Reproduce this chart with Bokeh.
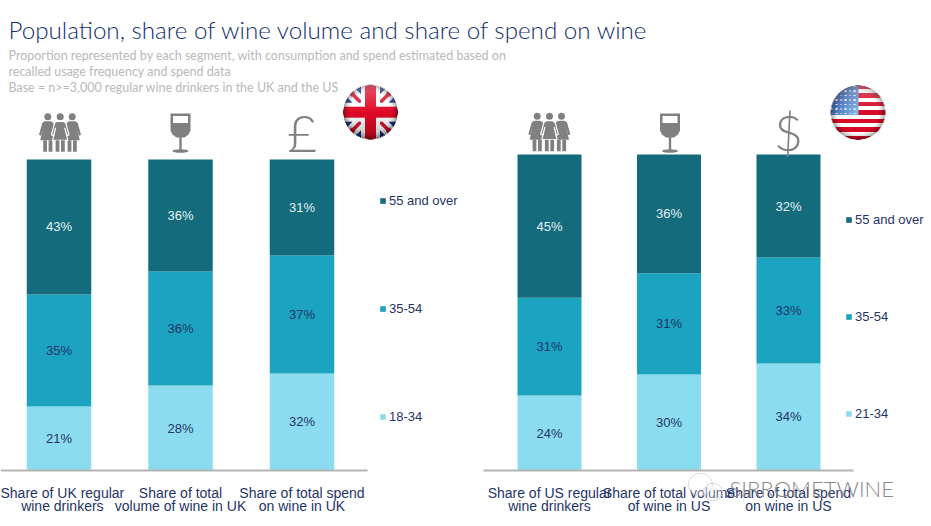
import numpy as np
from bokeh.plotting import figure
from bokeh.layouts import column, row
from bokeh.models import Range1d, LinearAxis, FixedTicker, Legend, LegendItem, AllLabels, ColumnDataSource
from bokeh.core.properties import value
from bokeh.embed import file_html
from bokeh.resources import INLINE

TITLE = "Population, share of wine volume and share of spend on wine"
SUB = ["Proportion represented by each segment, with consumption and spend estimated based on",
       "recalled usage frequency and spend data",
       "Base = n>=3,000 regular wine drinkers in the UK and the US"]

uk_cats = ["Share of UK regular\nwine drinkers", "Share of total\nvolume of wine in UK", "Share of total spend\non wine in UK"]
uk_young = [20.6, 27.3, 31.2]
uk_mid = [36.0, 36.7, 37.9]
uk_old = [43.4, 36.0, 30.9]
uk_young_lab = ["21%", "28%", "32%"]
uk_mid_lab = ["35%", "36%", "37%"]
uk_old_lab = ["43%", "36%", "31%"]

us_cats = ["Share of US regular\nwine drinkers", "Share of total volume\nof wine in US", "Share of total spend\non wine in US"]
us_young = [23.7, 30.4, 33.9]
us_mid = [31.0, 32.0, 33.5]
us_old = [45.3, 37.6, 32.6]
us_young_lab = ["24%", "30%", "34%"]
us_mid_lab = ["31%", "31%", "33%"]
us_old_lab = ["45%", "36%", "32%"]

C_OLD, C_MID, C_YOUNG = "#136b7c", "#1ca3bf", "#8cdcef"
NAVY = "#1f3468"
GREY = "#808080"
FRAME_TOP, AXIS_Y, PAGE_H = 80, 470, 526


def flag_rgba(kind, n=162):
    t = np.linspace(-1, 1, n)
    u, v = np.meshgrid(t, t)            # v grows downward on the picture
    r = np.sqrt(u * u + v * v)
    rgb = np.zeros((n, n, 3))
    if kind == "uk":
        rgb[:] = (28, 50, 140)
        d1, d2 = np.abs(u - v), np.abs(u + v)
        rgb[(d1 < 0.30) | (d2 < 0.30)] = (255, 255, 255)
        rgb[((d1 < 0.10) & (u * v > 0)) | ((d2 < 0.10) & (u * v < 0))] = (215, 20, 45)
        rgb[(np.abs(u) < 0.34) | (np.abs(v) < 0.34)] = (255, 255, 255)
        rgb[(np.abs(u) < 0.20) | (np.abs(v) < 0.20)] = (225, 10, 40)
    else:
        stripe = np.floor((v + 1) / 2 * 13).astype(int) % 2 == 0
        rgb[:] = (255, 255, 255)
        rgb[stripe] = (215, 10, 40)
        can = (u < 0) & (v < 0.08)
        mix = np.clip((u + v + 1.6) / 1.6, 0, 1)[..., None]
        blue = (1 - mix) * np.array([30, 60, 150]) + mix * np.array([130, 190, 235])
        rgb[can] = blue[can]
        star = ((np.sin(u * 38) > 0.55) & (np.sin(v * 38) > 0.55))
        rgb[can & star] = (235, 245, 255)
    z = np.sqrt(np.clip(1 - r * r, 0, 1))
    shade = 0.45 + 0.55 * np.clip(z * 1.5, 0, 1)
    if kind == "uk":
        shade = shade * (1.0 - 0.25 * np.clip(v, 0, 1))
    rgb = rgb * shade[..., None]
    gloss = np.clip(0.30 * (-v), 0, 0.30)[..., None]
    rgb = rgb * (1 - gloss) + 255 * gloss
    alpha = np.clip((1 - r) * n / 2, 0, 1)
    out = np.zeros((n, n), dtype=np.uint32)
    view = out.view(dtype=np.uint8).reshape((n, n, 4))
    view[..., :3] = np.clip(rgb, 0, 255).astype(np.uint8)
    view[..., 3] = (alpha * 255).astype(np.uint8)
    return out[::-1]


def add_person(p, cx, top, outline=None):
    h = PAGE_H
    xs = np.array([-3, 3, 5.5, 8.8, 6.8, 4.6, 7.6, -7.6, -4.6, -6.8, -8.8, -5.5]) + cx
    ys = top + np.array([4.5, 4.5, 6, 18, 19, 11, 23.5, 23.5, 11, 19, 18, 6])
    kw = dict(x_range_name="px", y_range_name="px", fill_color=GREY)
    lc = dict(line_color=outline or GREY, line_width=1.2 if outline else 0)
    p.patch(xs, h - ys, **kw, **lc)
    for a, b in ((-4.6, -0.8), (0.8, 4.6)):
        p.quad(left=cx + a, right=cx + b, top=h - (top + 23.5), bottom=h - (top + 35),
               x_range_name="px", y_range_name="px", fill_color=GREY, line_color=None)
    p.scatter([cx], [h - top], size=7, marker="circle", fill_color=GREY, line_color=None,
              x_range_name="px", y_range_name="px")


def add_glass(p, cx, top):
    h = PAGE_H
    k = dict(x_range_name="px", y_range_name="px")
    xs = cx + np.array([-10, 10, 10, 8, 4, -4, -8, -10])
    ys = top + np.array([0, 0, 17, 21, 24, 24, 21, 17])
    p.patch(xs, h - ys, fill_color=GREY, line_color=None, **k)
    p.quad(left=cx - 7.5, right=cx + 7.5, top=h - (top + 2.5), bottom=h - (top + 9.5), fill_color="white", line_color=None, **k)
    p.quad(left=cx - 1.2, right=cx + 1.2, top=h - (top + 23), bottom=h - (top + 37), fill_color=GREY, line_color=None, **k)
    p.ellipse(x=[cx], y=[h - (top + 37.5)], width=16, height=3.5, fill_color=GREY, line_color=None, **k)


def panel(left_px, width, c0, step, bar_w, unit, bounds, cats, series, labels, leg_names, leg_xy, leg_gap,
          people_xs, people_top, glass_x, glass_top, cur, cur_x, cur_y, cur_size, flag, flag_c):
    x_rng = Range1d((left_px - c0) / step, (left_px + width - c0) / step)
    y_rng = Range1d(-(PAGE_H - AXIS_Y) / unit, (AXIS_Y - FRAME_TOP) / unit)
    p = figure(width=width, height=PAGE_H - FRAME_TOP, x_range=x_rng, y_range=y_rng, output_backend="svg",
               toolbar_location=None, min_border=0, x_axis_location=None, y_axis_location=None)
    p.grid.visible = False
    p.outline_line_color = None
    p.extra_x_ranges["px"] = Range1d(left_px, left_px + width)
    p.extra_y_ranges["px"] = Range1d(0, PAGE_H - FRAME_TOP)

    idx = [0, 1, 2]
    src = ColumnDataSource(dict(x=idx, young=series[0], mid=series[1], old=series[2]))
    rs = p.vbar_stack(["young", "mid", "old"], x="x", width=bar_w / step, source=src,
                      color=[C_YOUNG, C_MID, C_OLD], line_color=None)

    base = np.zeros(3)
    for vals, lab, col in zip(series, labels, (NAVY, NAVY, "#e3f1f5")):
        v = np.array(vals)
        p.text(idx, base + v / 2, text=lab, text_font=value("Liberation Sans"), text_font_size="13px",
               text_align="center", text_baseline="middle", text_color=col)
        base = base + v

    ax = LinearAxis(ticker=FixedTicker(ticks=idx), major_label_overrides={i: c for i, c in enumerate(cats)},
                    major_label_policy=AllLabels())
    ax.fixed_location = 0
    ax.bounds = ((bounds[0] - c0) / step, (bounds[1] - c0) / step)
    ax.axis_line_color = "#b4b4b4"
    ax.axis_line_width = 2
    ax.major_tick_line_color = None
    ax.minor_tick_line_color = None
    ax.major_label_text_font = "Liberation Sans"
    ax.major_label_text_font_size = "14px"
    ax.major_label_text_color = NAVY
    ax.major_label_text_line_height = 0.87
    ax.major_label_standoff = 8
    p.add_layout(ax, "below")

    legend = Legend(items=[LegendItem(label=leg_names[i], renderers=[rs[i]]) for i in (2, 1, 0)],
                    location=leg_xy, orientation="vertical", padding=0, margin=0, spacing=leg_gap - 14,
                    glyph_width=7, glyph_height=7, label_height=14, label_standoff=3, background_fill_alpha=0,
                    border_line_color=None, label_text_font="Liberation Sans", label_text_font_size="13px",
                    label_text_color=NAVY)
    p.add_layout(legend, "center")

    for cx in (people_xs[0], people_xs[2], people_xs[1]):
        add_person(p, cx, people_top, "white" if cx == people_xs[1] else None)
    add_glass(p, glass_x, glass_top)
    p.text([cur_x], [PAGE_H - cur_y], text=[cur], x_range_name="px", y_range_name="px", text_font=value("Lato Light"),
           text_font_size=f"{cur_size}px", text_color=GREY, text_align="center", text_baseline="middle")
    p.image_rgba(image=[flag_rgba(flag)], x=flag_c[0] - 27.5, y=PAGE_H - flag_c[1] - 27.5, dw=55, dh=55,
                 x_range_name="px", y_range_name="px")
    return p


header = figure(width=931, height=FRAME_TOP, x_range=Range1d(0, 931), y_range=Range1d(FRAME_TOP, 0),
                output_backend="svg", toolbar_location=None, min_border=0, x_axis_location=None, y_axis_location=None)
header.grid.visible = False
header.outline_line_color = None
header.text([8], [29], text=[TITLE], text_font=value("Lato Light"), text_font_size="24.2px", text_color="#12306e",
            text_baseline="middle")
header.text([8, 8], [55, 71], text=SUB[:2], text_font=value("Lato"), text_font_size="12.5px", text_color="#b9b9b9",
            text_baseline="middle")

p1 = panel(0, 470, 58.5, 121.5, 64.5, 3.11, (0, 367), uk_cats, [uk_young, uk_mid, uk_old],
           [uk_young_lab, uk_mid_lab, uk_old_lab], ["18-34", "35-54", "55 and over"], (379, 102), 107,
           (47.3, 59.7, 71.7), 116.3, 180, 113, "£", 301.5, 131, 52, "uk", (370, 111.7))
p1.text([8], [PAGE_H - 87], text=[SUB[2]], x_range_name="px", y_range_name="px", text_font=value("Lato"),
        text_font_size="12.5px", text_color="#b9b9b9", text_baseline="middle")

p2 = panel(470, 461, 549, 119.5, 64, 3.16, (483, 853), us_cats, [us_young, us_mid, us_old],
           [us_young_lab, us_mid_lab, us_old_lab], ["21-34", "35-54", "55 and over"], (375, 105), 96,
           (536.7, 549, 561), 115.7, 669.5, 113, "$", 788, 131, 50, "us", (857.5, 112))

# watermark
p2.ellipse(x=[700, 712.5], y=[PAGE_H - 484, PAGE_H - 491.5], width=[24, 19], height=[22, 17], fill_color="white",
           fill_alpha=0.3, line_color="#c8c8c8", line_width=1, line_dash="2 1", x_range_name="px", y_range_name="px",
           level="annotation")
p2.text([729], [PAGE_H - 488], text=["SIRROMETWINE"], text_font=value("Lato Light"), text_font_size="22px",
        text_color="#8a8a8a", text_baseline="middle", x_range_name="px", y_range_name="px", level="annotation")

root = column(header, row(p1, p2, spacing=0), spacing=0)
open("out.html", "w").write(file_html(root, INLINE))
